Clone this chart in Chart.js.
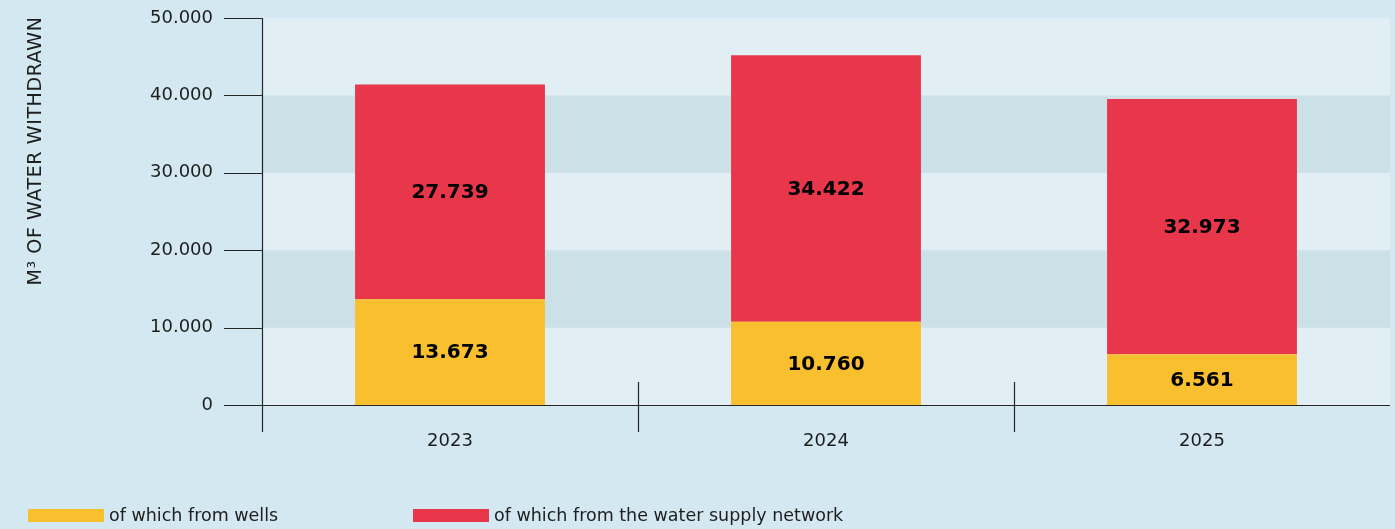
<!DOCTYPE html>
<html>
<head>
<meta charset="utf-8">
<script src="https://cdn.jsdelivr.net/npm/chart.js@4.4.1/dist/chart.umd.min.js"></script>
<style>
    body { margin: 0; background: #d4e8f2; }
    #contenedor { position: relative; width: 1395px; height: 529px; }
    #leyenda { position: absolute; left: 28px; top: 505px; display: flex; font-family: "DejaVu Sans", sans-serif; font-size: 17.5px; color: #1e1e1e; white-space: nowrap; }
    .item-leyenda { display: inline-flex; align-items: center; width: 385px; flex: none; }
    .item-leyenda span.caja { display: inline-block; width: 76px; height: 13px; margin-right: 5px; flex: none; }
</style>
</head>
<body>
<div id="contenedor">
    <canvas id="graficoAgua" width="1395" height="529"></canvas>
    <div id="leyenda"></div>
</div>
<script>
// datos: m3 de agua extraída por año
const anios = ['2023', '2024', '2025'];
const pozos = [13673, 10760, 6561];
const redSuministro = [27739, 34422, 32973];
const nombresSeries = ['of which from wells', 'of which from the water supply network'];
const coloresSeries = ['#f8bf2f', '#e8374b'];
const tituloEjeY = 'M\u00b3 OF WATER WITHDRAWN';

const colorLinea = '#262626';
const bandaClara = '#e1eef4';
const bandaOscura = '#cce0e7';

function formatoMiles(v) {
    return String(Math.round(v)).replace(/\B(?=(\d{3})+(?!\d))/g, '.');
}

// fondo a bandas, ejes y separadores de categoría
const ejesPersonalizados = {
    id: 'ejesPersonalizados',
    beforeDatasetsDraw(chart) {
        const { ctx, chartArea, scales: { y } } = chart;
        ctx.save();
        const ticks = y.ticks;
        for (let i = 0; i < ticks.length - 1; i++) {
            const y0 = y.getPixelForValue(ticks[i].value);
            const y1 = y.getPixelForValue(ticks[i + 1].value);
            ctx.fillStyle = i % 2 === 0 ? bandaClara : bandaOscura;
            ctx.fillRect(chartArea.left, y1, chartArea.right - chartArea.left, y0 - y1);
        }
        ctx.restore();
    },
    afterDatasetsDraw(chart) {
        const { ctx, chartArea, scales: { y } } = chart;
        ctx.save();
        ctx.strokeStyle = colorLinea;
        ctx.lineWidth = 1.2;
        ctx.beginPath();
        // eje vertical
        ctx.moveTo(chartArea.left + 0.5, chartArea.top);
        ctx.lineTo(chartArea.left + 0.5, chartArea.bottom + 27);
        // marcas del eje y
        y.ticks.forEach(t => {
            const py = Math.round(y.getPixelForValue(t.value)) + 0.5;
            ctx.moveTo(chartArea.left - 38, py);
            ctx.lineTo(t.value === 0 ? chartArea.right : chartArea.left, py);
        });
        // separadores entre años
        const ancho = (chartArea.right - chartArea.left) / anios.length;
        for (let i = 1; i < anios.length; i++) {
            const px = Math.round(chartArea.left + ancho * i) + 0.5;
            ctx.moveTo(px, chartArea.bottom - 23);
            ctx.lineTo(px, chartArea.bottom + 27);
        }
        ctx.stroke();

        // valores dentro de cada segmento
        ctx.fillStyle = '#000';
        ctx.font = 'bold 20px "DejaVu Sans", sans-serif';
        ctx.textAlign = 'center';
        ctx.textBaseline = 'middle';
        chart.data.datasets.forEach((ds, di) => {
            chart.getDatasetMeta(di).data.forEach((bar, i) => {
                ctx.fillText(formatoMiles(ds.data[i]), bar.x, (bar.y + bar.base) / 2 + 1);
            });
        });

        // título del eje y
        ctx.translate(36, 151);
        ctx.rotate(-Math.PI / 2);
        ctx.font = '19px "DejaVu Sans", sans-serif';
        ctx.letterSpacing = '0.6px';
        ctx.fillStyle = '#1e1e1e';
        ctx.fillText(tituloEjeY, 0, 0);
        ctx.restore();
    }
};

const ctx = document.getElementById('graficoAgua').getContext('2d');
const grafico = new Chart(ctx, {
    type: 'bar',
    data: {
        labels: anios,
        datasets: [
            { label: nombresSeries[0], data: pozos, backgroundColor: coloresSeries[0] },
            { label: nombresSeries[1], data: redSuministro, backgroundColor: coloresSeries[1] }
        ]
    },
    options: {
        responsive: false,
        animation: false,
        layout: { padding: { left: 0, right: 5, top: 18, bottom: 0 } },
        datasets: { bar: { categoryPercentage: 1, barPercentage: 0.505 } },
        plugins: { legend: { display: false }, tooltip: { enabled: false } },
        scales: {
            x: {
                stacked: true,
                grid: { display: false, drawTicks: false },
                border: { display: false },
                ticks: { color: '#1e1e1e', font: { family: 'DejaVu Sans', size: 18 }, padding: 26 },
                afterFit(scale) { scale.height = 124; }
            },
            y: {
                stacked: true,
                min: 0, max: 50000,
                grid: { display: false, drawTicks: true, tickLength: 45 },
                border: { display: false },
                ticks: {
                    stepSize: 10000,
                    color: '#1e1e1e',
                    font: { family: 'DejaVu Sans', size: 18 },
                    padding: 4,
                    callback: v => formatoMiles(v)
                },
                afterFit(scale) {
                    scale.width = 262;
                    scale.paddingTop = 0;
                    scale.paddingBottom = 0;
                }
            }
        }
    },
    plugins: [ejesPersonalizados]
});

// leyenda propia debajo del gráfico
const leyenda = document.getElementById('leyenda');
leyenda.innerHTML = grafico.data.datasets.map(ds =>
    `<div class="item-leyenda"><span class="caja" style="background:${ds.backgroundColor}"></span><span>${ds.label}</span></div>`
).join('');
</script>
</body>
</html>
